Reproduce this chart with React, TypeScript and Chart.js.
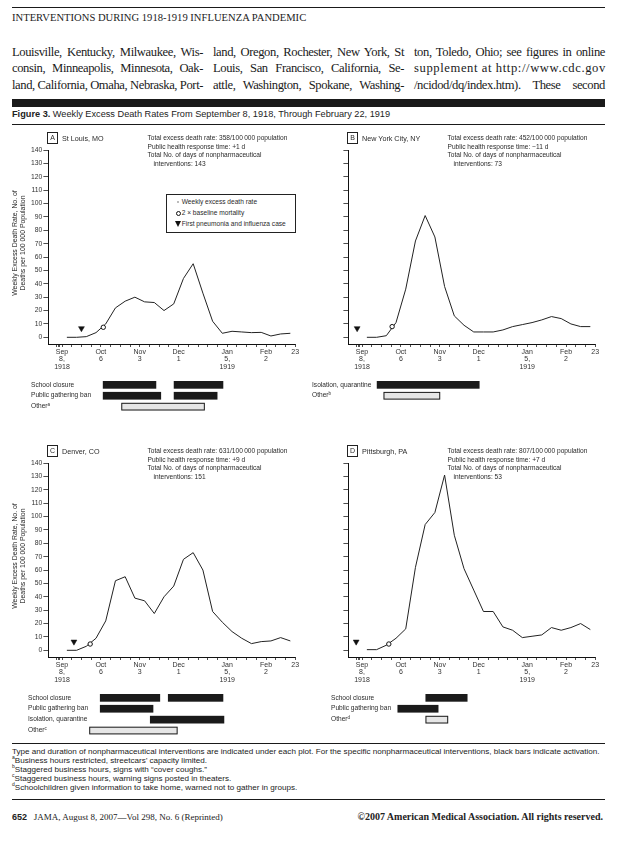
import React, { useEffect, useRef } from "react";
import { Chart, registerables } from "chart.js";

Chart.register(...registerables);

// ---------------- data ----------------
const weekPositions = [0.5, 1.5, 2.5, 3.5, 4.5, 5.5, 6.5, 7.5, 8.5, 9.5, 10.5, 11.5, 12.5, 13.5, 14.5, 15.5, 16.5, 17.5, 18.5, 19.5, 20.5, 21.5, 22.5, 23.5];
const tickWeeks = [0, 1, 2, 3, 4, 5, 6, 7, 8, 9, 10, 11, 12, 13, 14, 15, 16, 17, 18, 19, 20, 21, 22, 23, 24];
const extraTicks = [-0.55, -0.4, -0.25];
const dateTickLabels: string[][] = [
  ["Sep", "8,", "1918"], [], [], [], ["Oct", "6"], [], [], [], ["Nov", "3"], [], [], [], ["Dec", "1"],
  [], [], [], [], ["Jan", "5,", "1919"], [], [], [], ["Feb", "2"], [], [], ["23"],
];
const yTicks = [0, 10, 20, 30, 40, 50, 60, 70, 80, 90, 100, 110, 120, 130, 140];

const stLouisRates = [0, 0, 0.5, 3.5, 10, 22, 27, 30, 26.5, 26, 20, 25, 44, 55, 33, 12, 3, 4.5, 4, 3.5, 3.7, 1, 2.5, 3];
const newYorkRates = [0, 0, 1.2, 11, 36, 72, 91, 75, 38, 16, 9, 4, 4, 4, 5.5, 8, 9.5, 11, 13, 15.5, 14, 10, 8, 8];
const denverRates = [0, 0, 3, 9, 22, 52, 55, 39, 37, 27.5, 40, 48, 68, 73, 60, 29, 21, 14, 9, 5, 6.5, 7, 9.5, 7];
const pittsburghRates = [0.5, 0.5, 3.8, 9, 16, 62, 94, 103, 131, 86, 61, 45, 29, 29, 17.5, 15, 9.5, 10.5, 11.5, 17, 15, 17, 20, 15.5];

// [week, rate] of markers
const stLouisFirstCase = [2.0, 6.7];
const stLouisBaseline = [4.25, 7.5];
const newYorkFirstCase = [-0.5, 6.7];
const newYorkBaseline = [3.1, 8];
const denverFirstCase = [1.23, 6.4];
const denverBaseline = [2.9, 4.7];
const pittsburghFirstCase = [-0.6, 6.4];
const pittsburghBaseline = [2.76, 4.7];

type Row = { label: string; note?: string; other?: boolean; spans: number[][] };

const stLouisInterventions: Row[] = [
  { label: "School closure", spans: [[4.2, 9.7], [11.5, 16.6]] },
  { label: "Public gathering ban", spans: [[4.2, 10.2], [11.5, 16.0]] },
  { label: "Other", note: "a", other: true, spans: [[6.1, 14.7]] },
];
const newYorkInterventions: Row[] = [
  { label: "Isolation, quarantine", spans: [[1.52, 12.1]] },
  { label: "Other", note: "b", other: true, spans: [[2.21, 8.05]] },
];
const denverInterventions: Row[] = [
  { label: "School closure", spans: [[3.9, 10.1], [10.9, 16.6]] },
  { label: "Public gathering ban", spans: [[3.9, 9.4]] },
  { label: "Isolation, quarantine", spans: [[9.05, 16.7]] },
  { label: "Other", note: "c", other: true, spans: [[2.8, 11.9]] },
];
const pittsburghInterventions: Row[] = [
  { label: "School closure", spans: [[6.53, 10.86]] },
  { label: "Public gathering ban", spans: [[3.65, 7.87]] },
  { label: "Other", note: "d", other: true, spans: [[6.53, 8.87]] },
];

// ---------------- layout constants ----------------
const CW = 305;
const CH = 285;
const ROW_TOP = 241;
const ROW_PITCH = 10.9;
const ROW_H = 7.7;
const SANS = "'Liberation Sans', Arial, sans-serif";
const SERIF = "'Liberation Serif', 'Times New Roman', serif";
const TXT = "#2a2a2a";

const interventionPlugin = {
  id: "interventions",
  afterDraw(chart: any, _args: any, opts: any) {
    const rows: Row[] = opts.rows || [];
    const xs = chart.scales.x;
    const ctx = chart.ctx;
    ctx.save();
    rows.forEach((row, r) => {
      const top = ROW_TOP + r * ROW_PITCH;
      row.spans.forEach(([s, e]) => {
        const x0 = xs.getPixelForValue(s);
        const x1 = xs.getPixelForValue(e);
        if (row.other) {
          ctx.fillStyle = "#e6e6e6";
          ctx.fillRect(x0, top, x1 - x0, ROW_H);
          ctx.strokeStyle = "#1a1a1a";
          ctx.lineWidth = 1;
          ctx.strokeRect(x0 + 0.5, top + 0.5, x1 - x0 - 1, ROW_H - 1);
        } else {
          ctx.fillStyle = "#1a1a1a";
          ctx.fillRect(x0, top, x1 - x0, ROW_H);
        }
      });
    });
    ctx.restore();
  },
};

type PanelProps = {
  ox: number;
  oy: number;
  letter: string;
  city: string;
  rates: number[];
  firstCase: number[];
  baseline: number[];
  stats: string[];
  rows: Row[];
  labelX: number;
  showYLabels: boolean;
  legend?: boolean;
};

function Panel(p: PanelProps) {
  const ref = useRef<HTMLCanvasElement | null>(null);
  useEffect(() => {
    if (!ref.current) return;
    const chart = new Chart(ref.current, {
      type: "line",
      data: {
        datasets: [
          {
            data: weekPositions.map((w, i) => ({ x: w, y: p.rates[i] })),
            borderColor: "#222",
            borderWidth: 1,
            pointRadius: 0,
            tension: 0,
            order: 3,
          },
          {
            data: [{ x: p.baseline[0], y: p.baseline[1] }],
            showLine: false,
            pointStyle: "circle",
            pointRadius: 2.2,
            pointBorderWidth: 1,
            pointBorderColor: "#111",
            pointBackgroundColor: "#fff",
            order: 1,
          },
          {
            data: [{ x: p.firstCase[0], y: p.firstCase[1] }],
            showLine: false,
            pointStyle: "triangle",
            rotation: 180,
            pointRadius: 3.4,
            pointBorderWidth: 0.5,
            pointBorderColor: "#111",
            pointBackgroundColor: "#111",
            order: 2,
          },
        ] as any,
      },
      options: {
        animation: false,
        responsive: false,
        devicePixelRatio: 1,
        layout: { padding: { left: 20.4, right: CW - 295.2, top: 10, bottom: CH - 204 - 40 } },
        plugins: {
          legend: { display: false },
          tooltip: { enabled: false },
          interventions: { rows: p.rows },
        } as any,
        scales: {
          x: {
            type: "linear",
            min: -1.4,
            max: 24,
            afterBuildTicks: (s: any) => {
              s.ticks = [...extraTicks, ...tickWeeks].map((v) => ({ value: v }));
            },
            afterFit: (s: any) => {
              s.height = 40;
              s.paddingLeft = 0;
              s.paddingRight = 0;
            },
            ticks: {
              autoSkip: false,
              maxRotation: 0,
              minRotation: 0,
              padding: 1,
              color: "#333",
              font: { family: SANS, size: 7, lineHeight: 1.1 },
              callback: (v: any) => {
                const n = Number(v);
                if (!Number.isInteger(n)) return "";
                const l = dateTickLabels[n];
                return l && l.length ? l : "";
              },
            },
            grid: { drawOnChartArea: false, drawTicks: true, tickLength: 3, color: "#222", lineWidth: 0.8 },
            border: { display: true, color: "#111", width: 1 },
          },
          y: {
            type: "linear",
            min: -5,
            max: 140,
            afterBuildTicks: (s: any) => {
              s.ticks = yTicks.map((v) => ({ value: v }));
            },
            afterFit: (s: any) => {
              s.width = 28;
              s.paddingTop = 0;
              s.paddingBottom = 0;
            },
            ticks: {
              display: p.showYLabels,
              padding: 1,
              color: "#333",
              font: { family: SANS, size: 6.8 },
            },
            grid: { drawOnChartArea: false, drawTicks: true, tickLength: 5, color: "#222", lineWidth: 0.8 },
            border: { display: true, color: "#111", width: 1 },
          },
        },
      },
      plugins: [interventionPlugin as any],
    });
    return () => chart.destroy();
  }, []);

  const abs = (x: number, y: number, extra: React.CSSProperties = {}): React.CSSProperties => ({
    position: "absolute",
    left: p.ox + x,
    top: p.oy + y,
    whiteSpace: "nowrap",
    ...extra,
  });
  const small: React.CSSProperties = { fontFamily: SANS, fontSize: 6.6, color: TXT, lineHeight: "8.5px" };

  return (
    <>
      <canvas
        ref={ref}
        width={CW}
        height={CH}
        style={{ position: "absolute", left: p.ox, top: p.oy + 140, width: CW, height: CH }}
      />
      <div
        style={abs(47, 132, {
          width: 9,
          height: 10,
          border: "1px solid #222",
          fontFamily: SANS,
          fontSize: 7,
          lineHeight: "10px",
          textAlign: "center",
          color: TXT,
        })}
      >
        {p.letter}
      </div>
      <div style={abs(62, 133.5, { fontFamily: SANS, fontSize: 7.2, color: TXT, lineHeight: "9px" })}>{p.city}</div>
      <div style={abs(147.5, 134, small)}>
        <div>{p.stats[0]}</div>
        <div>{p.stats[1]}</div>
        <div>{p.stats[2]}</div>
        <div style={{ paddingLeft: 6 }}>{p.stats[3]}</div>
      </div>
      {p.showYLabels && (
        <div
          style={abs(19 - 80, 243 - 8, {
            width: 160,
            height: 16,
            transform: "rotate(-90deg)",
            transformOrigin: "50% 50%",
            textAlign: "center",
            fontFamily: SANS,
            fontSize: 6.9,
            lineHeight: "8px",
            color: TXT,
          })}
        >
          <div>Weekly Excess Death Rate, No. of</div>
          <div>Deaths per 100 000 Population</div>
        </div>
      )}
      {p.rows.map((row, r) => (
        <div
          key={r}
          style={abs(p.labelX, 140 + ROW_TOP + r * ROW_PITCH - 0.5, {
            ...small,
            lineHeight: ROW_H + 1 + "px",
          })}
        >
          {row.label}
          {row.note && <sup style={{ fontSize: 4.5, verticalAlign: "top", lineHeight: "6px" }}>{row.note}</sup>}
        </div>
      ))}
      {p.legend && (
        <div
          style={abs(165.7, 194.3, {
            width: 128,
            height: 37,
            border: "1px solid #222",
            background: "#fff",
          })}
        >
          {[0, 1, 2].map((i) => (
            <div key={i} style={{ position: "absolute", left: 0, top: 2 + i * 11, height: 10, width: 128 }}>
              {i === 0 && (
                <div style={{ position: "absolute", left: 10.5, top: 4, width: 2, height: 2, background: "#bbb" }} />
              )}
              {i === 1 && (
                <div
                  style={{
                    position: "absolute",
                    left: 9.5,
                    top: 2.6,
                    width: 3,
                    height: 3,
                    border: "1px solid #111",
                    borderRadius: "50%",
                    background: "#fff",
                  }}
                />
              )}
              {i === 2 && (
                <div
                  style={{
                    position: "absolute",
                    left: 8.5,
                    top: 2,
                    width: 0,
                    height: 0,
                    borderLeft: "3px solid transparent",
                    borderRight: "3px solid transparent",
                    borderTop: "6px solid #111",
                  }}
                />
              )}
              <div style={{ ...small, position: "absolute", left: 15, top: 0.5, whiteSpace: "nowrap" }}>
                {["Weekly excess death rate", "2 \u00d7 baseline mortality", "First pneumonia and influenza case"][i]}
              </div>
            </div>
          ))}
        </div>
      )}
    </>
  );
}

const statsFor = (rate: string, resp: string, days: string) => [
  `Total excess death rate: ${rate}/100\u2009000 population`,
  `Public health response time: ${resp} d`,
  "Total No. of days of nonpharmaceutical",
  `interventions: ${days}`,
];

const bodyCols = [
  ["Louisville, Kentucky, Milwaukee, Wis-", "consin, Minneapolis, Minnesota, Oak-", "land, California, Omaha, Nebraska, Port-"],
  ["land, Oregon, Rochester, New York, St", "Louis, San Francisco, California, Se-", "attle, Washington, Spokane, Washing-"],
  ["ton, Toledo, Ohio; see figures in online", "supplement at http://www.cdc.gov", "/ncidod/dq/index.htm). These second"],
];
const colLeft = [12, 213, 414];

export default function App() {
  const rule = (top: number, h = 1): React.CSSProperties => ({
    position: "absolute",
    left: 12,
    top,
    width: 593,
    height: h,
    background: "#1a1a1a",
  });
  return (
    <div style={{ position: "absolute", left: 0, top: 0, width: 635, height: 846, background: "#fff", overflow: "hidden" }}>
      <div style={rule(7)} />
      <div style={{ position: "absolute", left: 12, top: 12, fontFamily: SERIF, fontSize: 10.6, lineHeight: "12px", color: "#222", whiteSpace: "nowrap" }}>
        INTERVENTIONS DURING 1918-1919 INFLUENZA PANDEMIC
      </div>
      {bodyCols.map((col, c) =>
        col.map((line, l) => (
          <div
            key={c + "-" + l}
            style={{
              position: "absolute",
              left: colLeft[c],
              top: 43.5 + l * 16.7,
              width: 191,
              fontFamily: SERIF,
              fontSize: 12.6,
              letterSpacing: l === 1 && c === 2 ? 0.6 : -0.4,
              lineHeight: "17px",
              color: "#1a1a1a",
              textAlign: "justify",
              textAlignLast: "justify",
              whiteSpace: "nowrap",
            } as React.CSSProperties}
          >
            {line}
          </div>
        ))
      )}
      <div style={rule(99, 8)} />
      <div style={{ position: "absolute", left: 12, top: 108, fontFamily: SANS, fontSize: 9.2, lineHeight: "12px", color: "#222", whiteSpace: "nowrap" }}>
        <b>Figure 3.</b> Weekly Excess Death Rates From September 8, 1918, Through February 22, 1919
      </div>
      <div style={rule(124)} />

      <Panel ox={0} oy={0} letter="A" city="St Louis, MO" rates={stLouisRates} firstCase={stLouisFirstCase} baseline={stLouisBaseline}
        stats={statsFor("358", "+1", "143")} rows={stLouisInterventions} labelX={31} showYLabels legend />
      <Panel ox={300} oy={0} letter="B" city="New York City, NY" rates={newYorkRates} firstCase={newYorkFirstCase} baseline={newYorkBaseline}
        stats={statsFor("452", "\u221211", "73")} rows={newYorkInterventions} labelX={12} showYLabels={false} />
      <Panel ox={0} oy={313} letter="C" city="Denver, CO" rates={denverRates} firstCase={denverFirstCase} baseline={denverBaseline}
        stats={statsFor("631", "+9", "151")} rows={denverInterventions} labelX={28} showYLabels />
      <Panel ox={300} oy={313} letter="D" city="Pittsburgh, PA" rates={pittsburghRates} firstCase={pittsburghFirstCase} baseline={pittsburghBaseline}
        stats={statsFor("807", "+7", "53")} rows={pittsburghInterventions} labelX={31} showYLabels={false} />

      <div style={rule(743)} />
      <div style={{ position: "absolute", left: 12, top: 746.5, fontFamily: SANS, fontSize: 8.1, lineHeight: "9px", color: "#222", whiteSpace: "nowrap" }}>
        <div>Type and duration of nonpharmaceutical interventions are indicated under each plot. For the specific nonpharmaceutical interventions, black bars indicate activation.</div>
        <div><sup style={{ fontSize: 5, lineHeight: 0 }}>a</sup>Business hours restricted, streetcars’ capacity limited.</div>
        <div><sup style={{ fontSize: 5, lineHeight: 0 }}>b</sup>Staggered business hours, signs with “cover coughs.”</div>
        <div><sup style={{ fontSize: 5, lineHeight: 0 }}>c</sup>Staggered business hours, warning signs posted in theaters.</div>
        <div><sup style={{ fontSize: 5, lineHeight: 0 }}>d</sup>Schoolchildren given information to take home, warned not to gather in groups.</div>
      </div>
      <div style={rule(799)} />
      <div style={{ position: "absolute", left: 12, top: 811, fontFamily: SERIF, fontSize: 9, lineHeight: "12px", color: "#222", whiteSpace: "nowrap" }}>
        <span style={{ fontFamily: SANS, fontWeight: 700 }}>652</span>&nbsp;&nbsp; JAMA, August 8, 2007—Vol 298, No. 6 (Reprinted)
      </div>
      <div style={{ position: "absolute", right: 635 - 603, top: 811, fontFamily: SERIF, fontSize: 10, fontWeight: 700, lineHeight: "12px", color: "#222", whiteSpace: "nowrap" }}>
        ©2007 American Medical Association. All rights reserved.
      </div>
    </div>
  );
}
